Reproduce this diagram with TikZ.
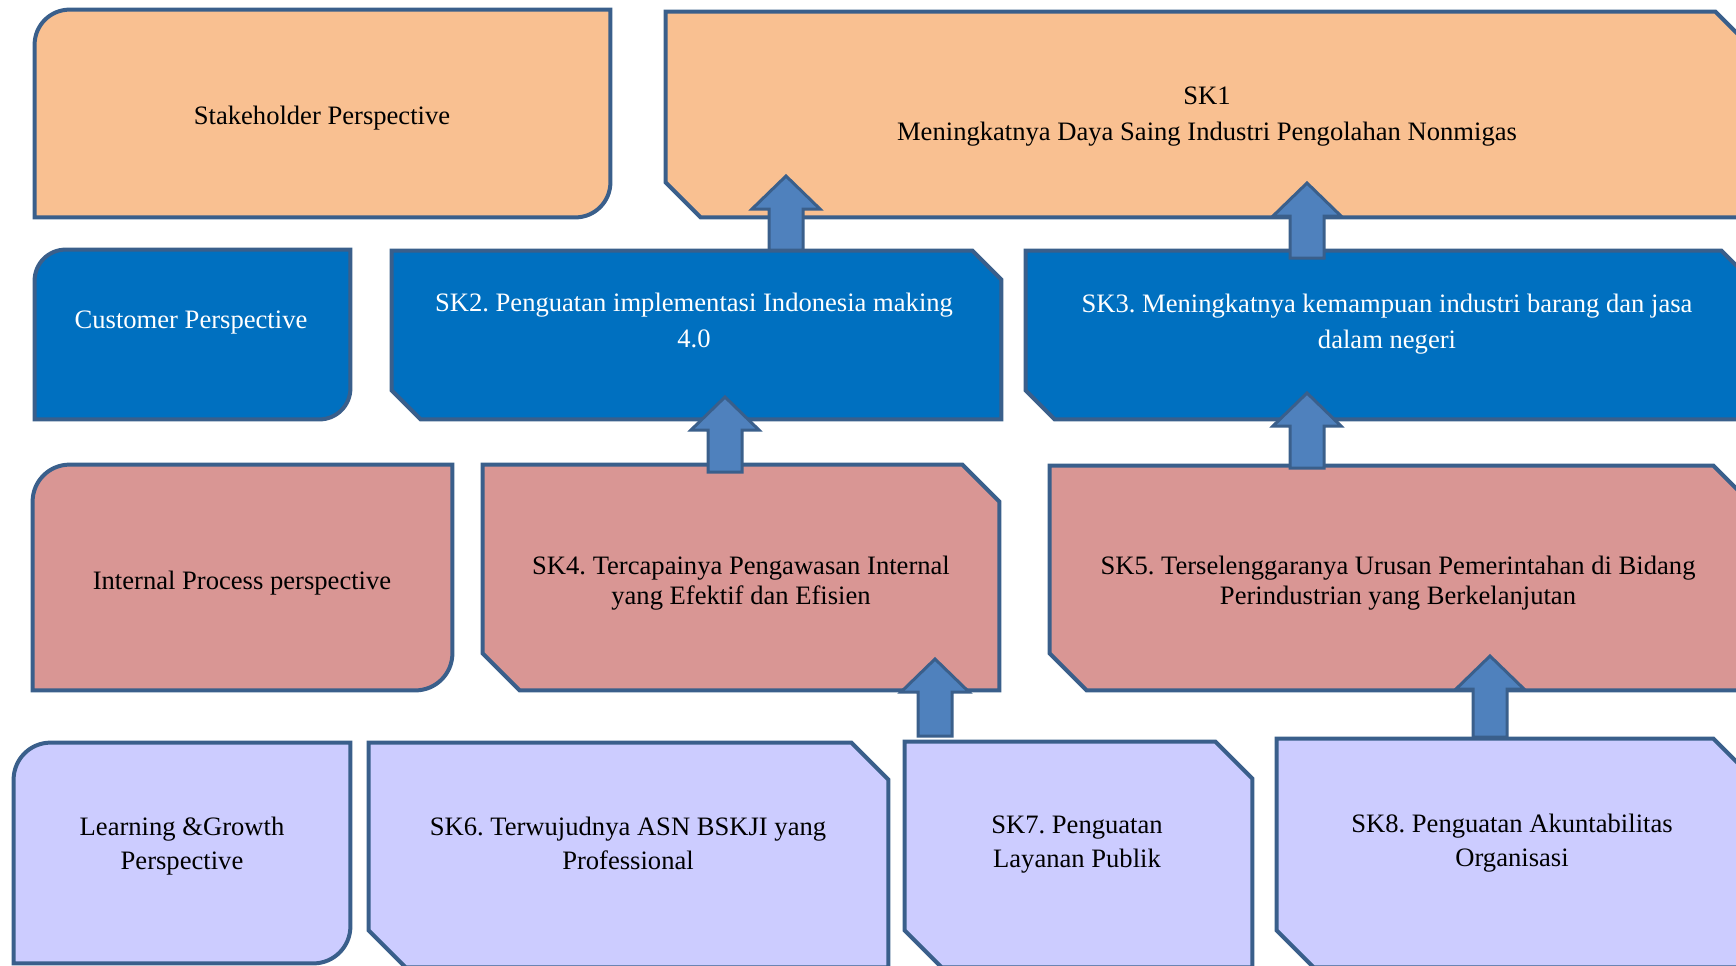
\documentclass[tikz,border=0pt]{standalone}
\usepackage{fontspec}
\setmainfont{Liberation Serif}
\frenchspacing
\usetikzlibrary{fit,calc}
\definecolor{lineblue}{HTML}{3A5F8B}
\definecolor{orangefill}{HTML}{F9C091}
\definecolor{bluefill}{HTML}{0070C0}
\definecolor{redfill}{HTML}{D99694}
\definecolor{lavfill}{HTML}{CCCCFF}
\definecolor{arrowfill}{HTML}{4F81BD}
\tikzset{
  boxline/.style={draw=lineblue, line width=2pt},
  arrowline/.style={draw=lineblue, fill=arrowfill, line width=1.5pt},
  area/.style={inner sep=0pt, draw=none},
  lbl/.style={align=center, inner sep=0pt, font=\fontsize{13.3}{18}\selectfont\frenchspacing},
  lbltight/.style={lbl, font=\fontsize{13.3}{15}\selectfont\frenchspacing},
  lblmid/.style={lbl, font=\fontsize{13.3}{17}\selectfont\frenchspacing},
}
\newcommand\snipshape[3]{\filldraw[boxline,fill=#2] (#1.north west) -- ([xshift=-#3]#1.north east) -- ([yshift=-#3]#1.north east) -- (#1.south east) -- ([xshift=#3]#1.south west) -- ([yshift=#3]#1.south west) -- cycle;}
\newcommand\roundshape[3]{\filldraw[boxline,fill=#2] (#1.south west) -- ([yshift=-#3]#1.north west) arc[start angle=180,end angle=90,radius=#3] -- (#1.north east) -- ([yshift=#3]#1.south east) arc[start angle=0,end angle=-90,radius=#3] -- cycle;}
\newcommand\blockarrow[2]{\filldraw[arrowline] let \p1=(#1), \p2=(#2) in (\x1-8.5pt,\y1) -- (\x1-8.5pt,\y2-16.5pt) -- (\x1-17pt,\y2-16.5pt) -- (\x2,\y2) -- (\x1+17pt,\y2-16.5pt) -- (\x1+8.5pt,\y2-16.5pt) -- (\x1+8.5pt,\y1) -- cycle;}
\begin{document}
\begin{tikzpicture}[x=0.5pt,y=-0.5pt]
\useasboundingbox (0,0) rectangle (1736,965);
\clip (0,0) rectangle (1736,965);
% box areas
\node[area, fit={(35,10) (610,217)}] (stake) {};
\node[area, fit={(666,12) (1750,217)}] (sk1) {};
\node[area, fit={(35,250) (350,419)}] (cust) {};
\node[area, fit={(392,251) (1001,419)}] (sk2) {};
\node[area, fit={(1026,251) (1750,419)}] (sk3) {};
\node[area, fit={(33,465) (452,690)}] (int) {};
\node[area, fit={(483,465) (999,690)}] (sk4) {};
\node[area, fit={(1050,466) (1750,690)}] (sk5) {};
\node[area, fit={(14,743) (350,963)}] (learn) {};
\node[area, fit={(369,743) (888,967)}] (sk6) {};
\node[area, fit={(905,742) (1252,967)}] (sk7) {};
\node[area, fit={(1277,739) (1750,967)}] (sk8) {};
% outlines
\roundshape{stake}{orangefill}{17.5pt}
\snipshape{sk1}{orangefill}{17.5pt}
\roundshape{cust}{bluefill}{15.5pt}
\snipshape{sk2}{bluefill}{14.5pt}
\snipshape{sk3}{bluefill}{14.5pt}
\roundshape{int}{redfill}{18.5pt}
\snipshape{sk4}{redfill}{18.5pt}
\snipshape{sk5}{redfill}{18.5pt}
\roundshape{learn}{lavfill}{18.5pt}
\snipshape{sk6}{lavfill}{18.5pt}
\snipshape{sk7}{lavfill}{18.5pt}
\snipshape{sk8}{lavfill}{18.5pt}
% texts
\node[lbl] (stake-t) at (322,118) {Stakeholder Perspective};
\node[lbl] (sk1-t) at (1207,117) {SK1\\Meningkatnya Daya Saing Industri Pengolahan Nonmigas};
\node[lbl, text=white] (cust-t) at (191,323) {Customer Perspective};
\node[lbl, text=white] (sk2-t) at (694,320) {SK2. Penguatan implementasi Indonesia making\\4.0};
\node[lbl, text=white] (sk3-t) at (1387,324) {SK3. Meningkatnya kemampuan industri barang dan jasa\\dalam negeri};
\node[lbl] (int-t) at (242,583) {Internal Process perspective};
\node[lbltight] (sk4-t) at (741,583) {SK4. Tercapainya Pengawasan Internal\\yang Efektif dan Efisien};
\node[lbltight] (sk5-t) at (1398,583) {SK5. Terselenggaranya Urusan Pemerintahan di Bidang\\Perindustrian yang Berkelanjutan};
\node[lblmid] (learn-t) at (182,846) {Learning \&Growth\\Perspective};
\node[lblmid] (sk6-t) at (628,843) {SK6. Terwujudnya ASN BSKJI yang\\Professional};
\node[lblmid] (sk7-t) at (1077,845) {SK7. Penguatan\\Layanan Publik};
\node[lblmid] (sk8-t) at (1512,843) {SK8. Penguatan Akuntabilitas\\Organisasi};
% arrow end points
\coordinate (a1s) at (786,250); \coordinate (a1t) at (786,176);
\coordinate (a2s) at (725,472); \coordinate (a2t) at (725,397);
\coordinate (a3s) at (1307,258); \coordinate (a3t) at (1307,183);
\coordinate (a4s) at (1307,468); \coordinate (a4t) at (1307,393);
\coordinate (a5s) at (935,736); \coordinate (a5t) at (935,659);
\coordinate (a6s) at (1490,737); \coordinate (a6t) at (1490,656);
\blockarrow{a1s}{a1t}
\blockarrow{a2s}{a2t}
\blockarrow{a3s}{a3t}
\blockarrow{a4s}{a4t}
\blockarrow{a5s}{a5t}
\blockarrow{a6s}{a6t}
\end{tikzpicture}
\end{document}
